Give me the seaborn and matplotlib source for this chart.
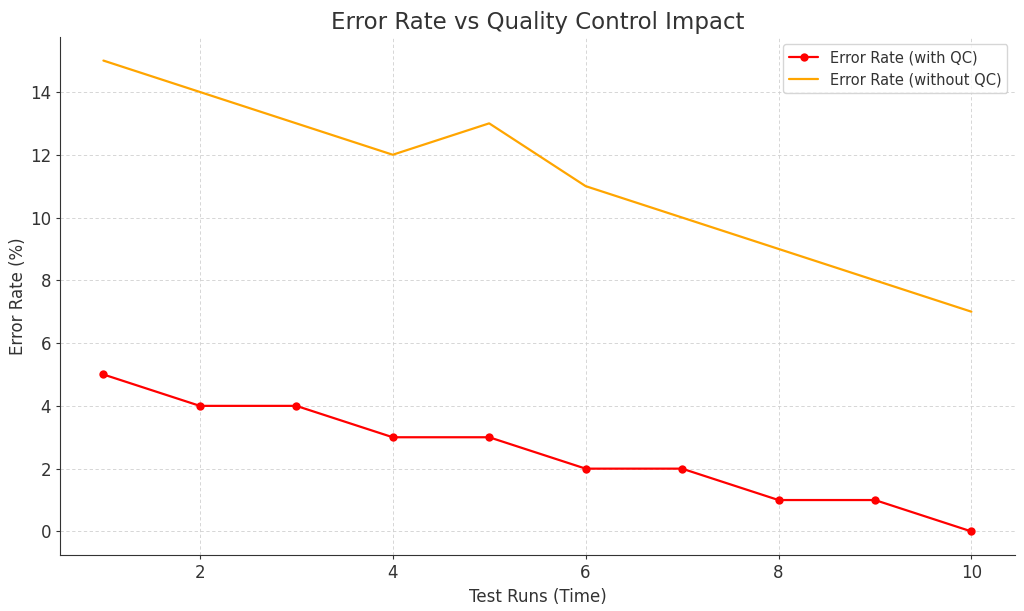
import matplotlib
matplotlib.use("Agg")
import matplotlib.pyplot as plt
import seaborn as sns
import pandas as pd

runs = [1, 2, 3, 4, 5, 6, 7, 8, 9, 10]
with_qc = [5, 4, 4, 3, 3, 2, 2, 1, 1, 0]
without_qc = [15, 14, 13, 12, 13, 11, 10, 9, 8, 7]

sns.set_style("ticks")
plt.rcParams['font.family'] = ['DejaVu Sans']

fig = plt.figure(figsize=(10.24, 6.11), dpi=100)
ax = fig.add_axes([0.0586, 0.0917, 0.9324, 0.8477])

df = pd.DataFrame({"run": runs, "with": with_qc, "without": without_qc})
sns.lineplot(data=df, x="run", y="with", ax=ax, color="red", marker="o",
             markersize=6, markeredgewidth=0, linewidth=1.6, label="Error Rate (with QC)")
sns.lineplot(data=df, x="run", y="without", ax=ax, color="orange",
             linewidth=1.6, label="Error Rate (without QC)")

ax.set_title("Error Rate vs Quality Control Impact", fontsize=16.5, color="#333333")
ax.set_xlabel("Test Runs (Time)", fontsize=12, color="#333333")
ax.set_ylabel("Error Rate (%)", fontsize=12, color="#333333", labelpad=2)
ax.tick_params(labelsize=12, colors="#333333", length=3)
ax.grid(True, linestyle=(0, (4, 3)), color="#d0d0d0", linewidth=0.6)
ax.set_axisbelow(True)
sns.despine(ax=ax)
ax.spines['left'].set_color('#333333')
ax.spines['bottom'].set_color('#333333')
leg = ax.legend(loc="upper right", fontsize=10.5, frameon=True)
for t in leg.get_texts():
    t.set_color("#333333")

fig.savefig("out.png", dpi=100)
